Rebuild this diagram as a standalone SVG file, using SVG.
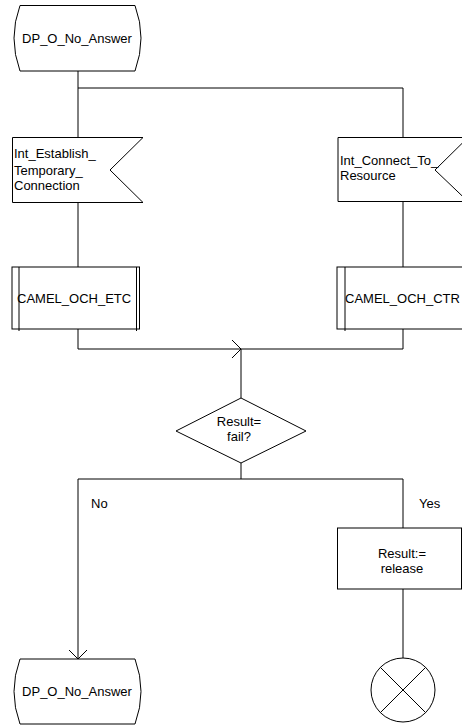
<svg xmlns="http://www.w3.org/2000/svg" width="462" height="726" viewBox="0 0 462 726">
<defs>
<style>
.s{fill:#fff;stroke:#000;stroke-width:1}
.l{fill:none;stroke:#000;stroke-width:1}
text{font-family:"Liberation Sans",Arial,sans-serif;font-size:13px;fill:#000}
.c{text-anchor:middle}
</style>
</defs>
<rect width="462" height="726" fill="#fff"/>
<g id="connectors">
<path class="l" d="M78,71 V137 M78,88 H403 V137"/>
<path class="l" d="M78,202 V267 M403,201 V267"/>
<path class="l" d="M78,329 V349 H403 V329"/>
<path class="l" d="M232,340 L241,349 L232,358"/>
<path class="l" d="M241,349 V398"/>
<path class="l" d="M241,463 V479 M78,479 H403"/>
<path class="l" d="M78,479 V659 M69,650 L78,659 L87,650"/>
<path class="l" d="M403,479 V528 M403,589 V658"/>
<text x="91" y="508">No</text>
<text x="419" y="508">Yes</text>
</g>
<g id="start">
<path class="s" d="M20,5.5 H135 Q147,38 135,71 H20 Q8,38 20,5.5 Z"/>
<text class="c" x="77" y="43">DP_O_No_Answer</text>
</g>
<g id="input1">
<path class="s" d="M12.5,137.5 H143 L110,170 L143,202.5 H12.5 Z"/>
<text x="14" y="158">Int_Establish_</text>
<text x="14" y="175">Temporary_</text>
<text x="14" y="190">Connection</text>
</g>
<g id="input2">
<path class="s" d="M338,137.5 H468 L435,170 L468,201.5 H338 Z"/>
<text x="340" y="165">Int_Connect_To_</text>
<text x="340" y="180">Resource</text>
</g>
<g id="proc1">
<rect class="s" x="12" y="267" width="127.5" height="62"/>
<path class="l" d="M19,267 V331 M136.5,267 V331"/>
<text x="17" y="303">CAMEL_OCH_ETC</text>
</g>
<g id="proc2">
<rect class="s" x="337" y="267" width="132" height="62"/>
<path class="l" d="M345,267 V331"/>
<text x="345" y="303">CAMEL_OCH_CTR</text>
</g>
<g id="decision">
<path class="s" d="M241,398 L306,431 L241,463 L176,431 Z"/>
<text class="c" x="239" y="426">Result=</text>
<text class="c" x="239" y="441">fail?</text>
</g>
<g id="task">
<rect class="s" x="337.5" y="528" width="124" height="61"/>
<text class="c" x="402" y="558">Result:=</text>
<text class="c" x="402" y="573">release</text>
</g>
<g id="end">
<path class="s" d="M20,659 H135 Q147,691.5 135,724 H20 Q8,691.5 20,659 Z"/>
<text class="c" x="77" y="696">DP_O_No_Answer</text>
</g>
<g id="stop">
<circle class="s" cx="403" cy="690" r="32"/>
<path class="l" d="M380.4,667.4 L425.6,712.6 M425.6,667.4 L380.4,712.6"/>
</g>
</svg>
